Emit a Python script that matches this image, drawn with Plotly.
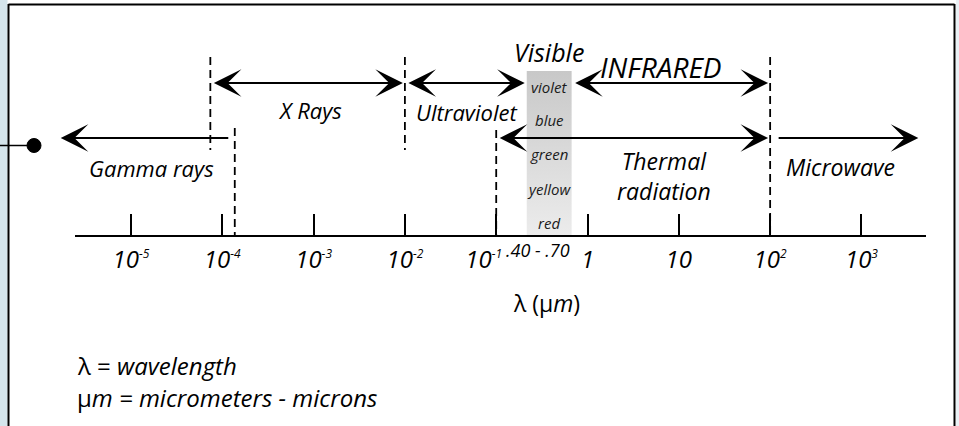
import numpy as np
import plotly.graph_objects as go

# ---------------- data ----------------
tick_vals = [1e-5, 1e-4, 1e-3, 1e-2, 1e-1, 1, 10, 100, 1000]
SUP = '<sup><span style="font-size:12px">{}</span></sup>'
NB = "\u00a0"
tick_text = ["10" + SUP.format("-5"), "10" + SUP.format("-4"), "10" + SUP.format("-3"),
             "10" + SUP.format("-2"), "10" + SUP.format("-1") + NB * 4, "1", "10",
             "10" + SUP.format("2"), "10" + SUP.format("3")]

band_names = ["Gamma rays", "X Rays", "Ultraviolet", "INFRARED", "Thermal<br>radiation", "Microwave"]
band_start = [1.7e-6, 7.4e-5, 1e-2, 0.67, 0.1, 100]
band_end = [1.37e-4, 1e-2, 0.216, 100, 100, 4200]
band_heads = ["start", "both", "both", "both", "both", "end"]

boundaries = [7.4e-5, 1.37e-4, 1e-2, 1e-1, 1e2]

visible_range = [0.216, 0.67]
visible_colors = ["violet", "blue", "green", "yellow", "red"]
visible_note = ".40 - .70"

# ---------------- layout constants (pixel rows, y measured from top) ----------------
W, H = 959, 426
AX_Y = 236
band_row = [138, 83, 83, 83, 138, 138]
band_label_x = [-4.78, -3.04, -1.32, 0.81, 0.84, 2.77]   # log10 positions
band_label_y = [168, 110, 112, 67, 176, 167]
band_label_size = [22, 22, 22, 28, 23, 23]
bound_top = [57, 128, 57, 130, 57]
bound_bottom = [150, AX_Y, 150, AX_Y, AX_Y]
color_rows = [87, 120, 154, 189, 223]

FONT = "Open Sans"
fig = go.Figure()

# visible band with vertical gradient
vx0, vx1 = visible_range
fig.add_trace(go.Scatter(
    x=[vx0, vx1, vx1, vx0, vx0], y=[71, 71, AX_Y, AX_Y, 71],
    mode="lines", fill="toself", line=dict(width=0),
    fillgradient=dict(type="vertical", colorscale=[[0, "#ececec"], [1, "#c8c8c8"]]),
    hoverinfo="skip", showlegend=False))

# dashed boundaries
for bx, t, b in zip(boundaries, bound_top, bound_bottom):
    fig.add_trace(go.Scatter(x=[bx, bx], y=[t, b], mode="lines",
                             line=dict(color="black", width=1.8, dash="8px,5px"),
                             hoverinfo="skip", showlegend=False))

annotations = []
AS = 2.3
# arrows
for s, e, row, heads in zip(band_start, band_end, band_row, band_heads):
    ls, le = np.log10(s), np.log10(e)
    common = dict(y=row, ay=row, xref="x", yref="y", axref="x", ayref="y", text="",
                  showarrow=True, arrowhead=3, arrowsize=AS, arrowwidth=2, arrowcolor="black")
    if heads == "start":
        annotations.append(dict(x=ls, ax=le, arrowside="end", standoff=0, startstandoff=5, **common))
    elif heads == "end":
        annotations.append(dict(x=le, ax=ls, arrowside="end", standoff=0, startstandoff=7, **common))
    else:
        annotations.append(dict(x=le, ax=ls, arrowside="end+start", startarrowhead=3,
                                startarrowsize=AS, standoff=2, startstandoff=2, **common))

# band labels
for name, lx, ly, fs in zip(band_names, band_label_x, band_label_y, band_label_size):
    annotations.append(dict(x=lx, y=ly, xref="x", yref="y", text=name, showarrow=False,
                            font=dict(family=FONT, size=fs, color="black", style="italic")))
vmid = np.log10(np.sqrt(vx0 * vx1))
annotations.append(dict(x=vmid, y=52, xref="x", yref="y", text="Visible",
                        showarrow=False, font=dict(family=FONT, size=25, color="black", style="italic")))
for c, cy in zip(visible_colors, color_rows):
    annotations.append(dict(x=vmid, y=cy, xref="x", yref="y", text=c,
                            showarrow=False, font=dict(family=FONT, size=15, color="#1a1a1a", style="italic")))
annotations.append(dict(x=-0.546, y=250, xref="x", yref="y", text=visible_note, showarrow=False,
                        font=dict(family=FONT, size=18, color="black", style="italic")))
annotations.append(dict(x=-0.447, y=303, xref="x", yref="y", text="λ (μ<i>m</i>)", showarrow=False,
                        font=dict(family=FONT, size=23, color="black")))
annotations.append(dict(x=75 / W, y=1 - 365 / H, xref="paper", yref="paper", xanchor="left",
                        yanchor="middle", text="λ = <i>wavelength</i>", showarrow=False,
                        font=dict(family=FONT, size=24, color="black")))
annotations.append(dict(x=75 / W, y=1 - 397 / H, xref="paper", yref="paper", xanchor="left",
                        yanchor="middle", text="μ<i>m = micrometers - microns</i>", showarrow=False,
                        font=dict(family=FONT, size=24, color="black")))

shapes = [
    dict(type="rect", xref="paper", yref="paper", x0=0, x1=7.5 / W, y0=0, y1=1,
         fillcolor="#d5e5ec", line=dict(width=0), layer="below"),
    dict(type="rect", xref="paper", yref="paper", x0=956 / W, x1=1, y0=0, y1=1,
         fillcolor="#e9f1f5", line=dict(width=0), layer="below"),
    dict(type="line", xref="paper", yref="paper", x0=8.5 / W, x1=8.5 / W, y0=0, y1=1 - 4 / H,
         line=dict(color="black", width=2)),
    dict(type="line", xref="paper", yref="paper", x0=8.5 / W, x1=954.5 / W, y0=1 - 4.5 / H, y1=1 - 4.5 / H,
         line=dict(color="black", width=2)),
    dict(type="line", xref="paper", yref="paper", x0=954.5 / W, x1=954.5 / W, y0=0, y1=1 - 4 / H,
         line=dict(color="black", width=2)),
    dict(type="line", xref="paper", yref="paper", x0=0, x1=30 / W, y0=1 - 145.5 / H, y1=1 - 145.5 / H,
         line=dict(color="black", width=1.5)),
    dict(type="circle", xref="paper", yref="paper", x0=27 / W, x1=41 / W, y0=1 - 152.5 / H, y1=1 - 138.5 / H,
         fillcolor="black", line=dict(color="black", width=1)),
]

fig.update_layout(
    width=W, height=H, margin=dict(l=0, r=0, t=0, b=0),
    paper_bgcolor="white", plot_bgcolor="rgba(0,0,0,0)",
    showlegend=False, annotations=annotations, shapes=shapes,
    xaxis=dict(type="log", domain=[75 / W, 926 / W], range=[-5.613, 3.707],
               anchor="free", position=1 - AX_Y / H,
               showline=True, linecolor="black", linewidth=2,
               ticks="inside", ticklen=21, tickwidth=2, tickcolor="black",
               tickvals=tick_vals, ticktext=tick_text, showgrid=False, zeroline=False,
               tickfont=dict(family=FONT, size=24, color="black", style="italic"),
               ticklabelstandoff=2),
    yaxis=dict(range=[H, 0], visible=False, domain=[0, 1]),
)

fig.write_html("out.html", config={"displayModeBar": False},
               post_script="document.body.style.margin='0px';")
